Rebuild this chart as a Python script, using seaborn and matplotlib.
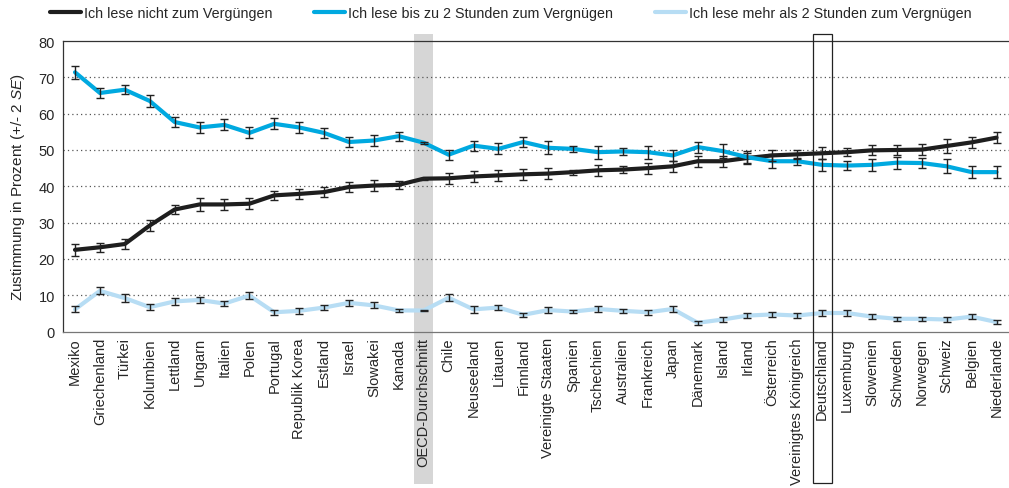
import numpy as np
import pandas as pd
import seaborn as sns
import matplotlib.pyplot as plt
from matplotlib import transforms
from matplotlib.patches import Rectangle

laender = ['Mexiko', 'Griechenland', 'Türkei', 'Kolumbien', 'Lettland', 'Ungarn', 'Italien',
           'Polen', 'Portugal', 'Republik Korea', 'Estland', 'Israel', 'Slowakei', 'Kanada',
           'OECD-Durchschnitt', 'Chile', 'Neuseeland', 'Litauen', 'Finnland', 'Vereinigte Staaten',
           'Spanien', 'Tschechien', 'Australien', 'Frankreich', 'Japan', 'Dänemark', 'Island',
           'Irland', 'Österreich', 'Vereinigtes Königreich', 'Deutschland', 'Luxemburg',
           'Slowenien', 'Schweden', 'Norwegen', 'Schweiz', 'Belgien', 'Niederlande']

nicht = [22.5, 23.2, 24.1, 29.2, 33.6, 35.0, 35.0, 35.2, 37.5, 37.9, 38.4, 39.8, 40.2, 40.4,
         42.1, 42.2, 42.7, 43.0, 43.3, 43.5, 43.9, 44.4, 44.6, 45.0, 45.5, 46.9, 46.9, 47.8,
         48.5, 48.8, 49.1, 49.4, 49.9, 50.0, 50.1, 51.1, 52.1, 53.4]
nicht_se = [1.7, 1.2, 1.3, 1.5, 1.2, 1.7, 1.5, 1.5, 1.3, 1.4, 1.3, 1.3, 1.5, 1.1,
            0.3, 1.5, 1.5, 1.5, 1.5, 1.5, 0.7, 1.6, 1.0, 1.5, 1.5, 1.5, 1.5, 1.3,
            1.5, 1.2, 1.6, 1.1, 1.4, 1.5, 1.5, 1.8, 1.5, 1.6]

bis2 = [71.4, 65.7, 66.6, 63.5, 57.7, 56.2, 56.9, 54.7, 57.2, 56.2, 54.7, 52.2, 52.6, 53.8,
        52.0, 48.7, 51.2, 50.3, 52.2, 50.6, 50.3, 49.4, 49.6, 49.4, 48.5, 50.8, 49.7, 48.0,
        46.9, 46.9, 45.9, 45.7, 45.9, 46.5, 46.4, 45.5, 43.9, 43.9]
bis2_se = [1.8, 1.3, 1.3, 1.6, 1.5, 1.6, 1.5, 1.5, 1.5, 1.5, 1.4, 1.3, 1.6, 1.2,
           0.3, 1.4, 1.4, 1.5, 1.5, 1.8, 0.8, 1.8, 1.0, 1.8, 1.4, 1.5, 1.9, 1.8,
           1.9, 1.0, 1.6, 1.3, 1.6, 1.7, 1.5, 1.9, 1.6, 1.7]

mehr2 = [6.1, 11.2, 9.2, 6.7, 8.3, 8.7, 7.7, 9.9, 5.3, 5.7, 6.6, 7.9, 7.2, 5.8,
         5.8, 9.3, 6.1, 6.6, 4.6, 5.9, 5.5, 6.2, 5.7, 5.3, 6.2, 2.4, 3.3, 4.4,
         4.7, 4.4, 5.1, 5.1, 4.1, 3.5, 3.5, 3.3, 4.1, 2.6]
mehr2_se = [0.8, 1.0, 1.0, 0.8, 0.9, 0.9, 0.8, 1.0, 0.7, 0.8, 0.7, 0.8, 0.8, 0.5,
            0.1, 0.9, 0.9, 0.8, 0.6, 0.9, 0.5, 0.7, 0.5, 0.7, 0.8, 0.5, 0.7, 0.6,
            0.8, 0.6, 0.7, 0.8, 0.6, 0.6, 0.6, 0.7, 0.7, 0.6]

serien = ['Ich lese nicht zum Vergüngen',
          'Ich lese bis zu 2 Stunden zum Vergnügen',
          'Ich lese mehr als 2 Stunden zum Vergnügen']
farben = ['#1e1e1e', '#00a9e0', '#b7ddf4']

rows = []
for name, vals, ses in zip(serien, [nicht, bis2, mehr2], [nicht_se, bis2_se, mehr2_se]):
  for i, (v, s) in enumerate(zip(vals, ses)):
    rows.append({'pos': i, 'land': laender[i], 'serie': name, 'wert': v, 'se': s})
df = pd.DataFrame(rows)

sns.set_style('white')
plt.rcParams['font.family'] = ['Liberation Sans', 'DejaVu Sans']
plt.rcParams['mathtext.fontset'] = 'custom'
plt.rcParams['mathtext.it'] = 'Liberation Sans:italic'
plt.rcParams['mathtext.rm'] = 'Liberation Sans'

fig = plt.figure(figsize=(10.09, 4.89), dpi=100)
ax = fig.add_axes([0.062, 0.32, 0.938, 0.594])

n = len(laender)
blend = transforms.blended_transform_factory(ax.transData, ax.transAxes)
oecd = laender.index('OECD-Durchschnitt')
deu = laender.index('Deutschland')
ax.add_patch(Rectangle((oecd - 0.38, -0.525), 0.76, 1.55, transform=blend,
                       facecolor='#d6d6d6', edgecolor='none', clip_on=False, zorder=0))

for y in range(10, 80, 10):
  ax.axhline(y, color='#555555', lw=0.9, ls=(0, (1, 2.5)), zorder=1)

sns.lineplot(data=df, x='pos', y='wert', hue='serie', hue_order=serien,
             palette=farben, linewidth=3, ax=ax, zorder=3, legend=True)

for name in serien:
  sub = df[df.serie == name]
  ax.errorbar(sub.pos, sub.wert, yerr=sub.se, fmt='none', ecolor='#222222',
              elinewidth=1, capsize=3, capthick=1, zorder=4)

ax.add_patch(Rectangle((deu - 0.38, -0.52), 0.76, 1.545, transform=blend,
                       facecolor='none', edgecolor='#222222', lw=0.9, clip_on=False, zorder=5))

ax.set_xlim(-0.5, n - 0.5)
ax.set_ylim(0, 80)
ax.set_yticks(range(0, 81, 10))
ax.set_xticks(range(n))
ax.set_xticklabels(laender, rotation=90, fontsize=10.5)
ax.set_xticks(np.arange(-0.5, n, 1), minor=True)
ax.tick_params(axis='x', which='major', length=0, pad=4)
ax.tick_params(axis='x', which='minor', length=4, width=0.9, color='#555555', direction='out')
ax.tick_params(axis='y', labelsize=10.5, length=4, width=0.9, color='#555555', direction='inout')
ax.set_xlabel(None)
ax.set_ylabel('Zustimmung in Prozent (+/- 2 $\\it{SE}$)', fontsize=11, labelpad=8)

for side in ['top', 'left']:
  ax.spines[side].set_color('#333333')
  ax.spines[side].set_linewidth(0.9)
ax.spines['bottom'].set_color('#777777')
ax.spines['bottom'].set_linewidth(0.9)
ax.spines['right'].set_visible(False)

handles, labels = ax.get_legend_handles_labels()
ax.get_legend().remove()
fig.legend(handles, labels, loc='center', bbox_to_anchor=(0.506, 0.971), ncol=3,
           frameon=False, fontsize=10.3, handlelength=2.2, handletextpad=0.2,
           columnspacing=2.9, borderaxespad=0)

fig.savefig('out.png', dpi=100)
